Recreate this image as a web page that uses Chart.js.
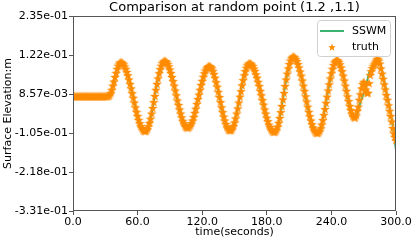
<!DOCTYPE html>
<html>
<head>
<meta charset="utf-8">
<script src="https://cdn.jsdelivr.net/npm/chart.js@4.4.0/dist/chart.umd.min.js"></script>
<style>
html, body { margin: 0; padding: 0; background: #fff; }
#wrap { width: 416px; height: 242px; }
</style>
</head>
<body>
<div id="wrap"><canvas id="chart" width="416" height="242"></canvas></div>
<script>

// truth sampled every second
var truthTimes = [
    0, 1, 2, 3, 4, 5, 6, 7, 8, 9,
    10, 11, 12, 13, 14, 15, 16, 17, 18, 19,
    20, 21, 22, 23, 24, 25, 26, 27, 28, 29,
    30, 31, 32, 33, 34, 35, 36, 37, 38, 39,
    40, 41, 42, 43, 44, 45, 46, 47, 48, 49,
    50, 51, 52, 53, 54, 55, 56, 57, 58, 59,
    60, 61, 62, 63, 64, 65, 66, 67, 68, 69,
    70, 71, 72, 73, 74, 75, 76, 77, 78, 79,
    80, 81, 82, 83, 84, 85, 86, 87, 88, 89,
    90, 91, 92, 93, 94, 95, 96, 97, 98, 99,
    100, 101, 102, 103, 104, 105, 106, 107, 108, 109,
    110, 111, 112, 113, 114, 115, 116, 117, 118, 119,
    120, 121, 122, 123, 124, 125, 126, 127, 128, 129,
    130, 131, 132, 133, 134, 135, 136, 137, 138, 139,
    140, 141, 142, 143, 144, 145, 146, 147, 148, 149,
    150, 151, 152, 153, 154, 155, 156, 157, 158, 159,
    160, 161, 162, 163, 164, 165, 166, 167, 168, 169,
    170, 171, 172, 173, 174, 175, 176, 177, 178, 179,
    180, 181, 182, 183, 184, 185, 186, 187, 188, 189,
    190, 191, 192, 193, 194, 195, 196, 197, 198, 199,
    200, 201, 202, 203, 204, 205, 206, 207, 208, 209,
    210, 211, 212, 213, 214, 215, 216, 217, 218, 219,
    220, 221, 222, 223, 224, 225, 226, 227, 228, 229,
    230, 231, 232, 233, 234, 235, 236, 237, 238, 239,
    240, 241, 242, 243, 244, 245, 246, 247, 248, 249,
    250, 251, 252, 253, 254, 255, 256, 257, 258, 259,
    260, 261, 262, 263, 264, 265, 266, 267, 268, 269,
    270, 271, 272, 273, 274, 275, 276, 277, 278, 279,
    280, 281, 282, 283, 284, 285, 286, 287, 288, 289,
    290, 291, 292, 293, 294, 295, 296, 297, 298, 299,
    300
];

var truth = [
    0.002, 0.002, 0.002, 0.002, 0.002, 0.002, 0.002, 0.002, 0.002, 0.002,
    0.002, 0.002, 0.002, 0.002, 0.002, 0.002, 0.002, 0.002, 0.002, 0.002,
    0.002, 0.002, 0.002, 0.002, 0.002, 0.002, 0.002, 0.002, 0.002, 0.002,
    0.002, 0.002, 0.002, 0.003, 0.006, 0.012, 0.021, 0.033, 0.045, 0.058,
    0.070, 0.082, 0.091, 0.097, 0.101, 0.101, 0.099, 0.095, 0.089, 0.082,
    0.073, 0.063, 0.051, 0.038, 0.025, 0.011, -0.002, -0.016, -0.030, -0.043,
    -0.055, -0.066, -0.076, -0.084, -0.090, -0.095, -0.098, -0.099, -0.098, -0.093,
    -0.085, -0.075, -0.063, -0.048, -0.032, -0.015, 0.003, 0.021, 0.038, 0.054,
    0.069, 0.081, 0.091, 0.099, 0.103, 0.105, 0.104, 0.101, 0.096, 0.089,
    0.080, 0.070, 0.058, 0.046, 0.033, 0.019, 0.005, -0.010, -0.023, -0.036,
    -0.048, -0.059, -0.069, -0.076, -0.083, -0.087, -0.089, -0.089, -0.086, -0.082,
    -0.076, -0.068, -0.058, -0.046, -0.034, -0.020, -0.006, 0.007, 0.021, 0.035,
    0.047, 0.059, 0.069, 0.077, 0.083, 0.087, 0.090, 0.090, 0.087, 0.083,
    0.076, 0.067, 0.056, 0.043, 0.030, 0.015, 0.000, -0.015, -0.030, -0.044,
    -0.057, -0.068, -0.078, -0.086, -0.092, -0.096, -0.097, -0.096, -0.091, -0.084,
    -0.074, -0.062, -0.048, -0.033, -0.016, 0.001, 0.017, 0.034, 0.049, 0.063,
    0.075, 0.085, 0.092, 0.097, 0.098, 0.097, 0.094, 0.090, 0.083, 0.076,
    0.066, 0.056, 0.044, 0.032, 0.018, 0.005, -0.009, -0.022, -0.036, -0.048,
    -0.060, -0.070, -0.080, -0.087, -0.094, -0.098, -0.101, -0.102, -0.100, -0.095,
    -0.086, -0.075, -0.061, -0.044, -0.026, -0.007, 0.012, 0.032, 0.051, 0.068,
    0.083, 0.096, 0.106, 0.113, 0.117, 0.117, 0.115, 0.110, 0.104, 0.096,
    0.086, 0.074, 0.062, 0.048, 0.033, 0.018, 0.002, -0.013, -0.028, -0.043,
    -0.056, -0.068, -0.079, -0.088, -0.095, -0.101, -0.104, -0.105, -0.103, -0.099,
    -0.091, -0.080, -0.067, -0.052, -0.035, -0.017, 0.001, 0.019, 0.037, 0.054,
    0.069, 0.082, 0.093, 0.101, 0.105, 0.107, 0.106, 0.102, 0.095, 0.086,
    0.075, 0.062, 0.048, 0.033, 0.018, 0.002, -0.012, -0.026, -0.038, -0.048,
    -0.055, -0.059, -0.060, -0.054, -0.040, -0.028, -0.008, 0.008, 0.025, 0.038,
    0.044, 0.036, 0.022, 0.012, 0.012, 0.040, 0.064, 0.075, 0.084, 0.091,
    0.097, 0.103, 0.109, 0.111, 0.106, 0.097, 0.083, 0.068, 0.053, 0.037,
    0.022, 0.006, -0.008, -0.024, -0.040, -0.055, -0.071, -0.090, -0.105, -0.116,
    -0.125
];

// SSWM line, every 2.5 s
var sswmTimes = [
    0, 2.5, 5, 7.5, 10, 12.5, 15, 17.5, 20, 22.5,
    25, 27.5, 30, 32.5, 35, 37.5, 40, 42.5, 45, 47.5,
    50, 52.5, 55, 57.5, 60, 62.5, 65, 67.5, 70, 72.5,
    75, 77.5, 80, 82.5, 85, 87.5, 90, 92.5, 95, 97.5,
    100, 102.5, 105, 107.5, 110, 112.5, 115, 117.5, 120, 122.5,
    125, 127.5, 130, 132.5, 135, 137.5, 140, 142.5, 145, 147.5,
    150, 152.5, 155, 157.5, 160, 162.5, 165, 167.5, 170, 172.5,
    175, 177.5, 180, 182.5, 185, 187.5, 190, 192.5, 195, 197.5,
    200, 202.5, 205, 207.5, 210, 212.5, 215, 217.5, 220, 222.5,
    225, 227.5, 230, 232.5, 235, 237.5, 240, 242.5, 245, 247.5,
    250, 252.5, 255, 257.5, 260, 262.5, 265, 267.5, 270, 272.5,
    275, 277.5, 280, 282.5, 285, 287.5, 290, 292.5, 295, 297.5,
    300
];

var sswm = [
    0.002, 0.002, 0.002, 0.002, 0.002, 0.002, 0.002, 0.002, 0.002, 0.002,
    0.002, 0.002, 0.002, 0.003, 0.012, 0.039, 0.070, 0.094, 0.101, 0.092,
    0.073, 0.045, 0.011, -0.023, -0.055, -0.080, -0.095, -0.099, -0.085, -0.056,
    -0.015, 0.029, 0.069, 0.095, 0.105, 0.099, 0.080, 0.052, 0.019, -0.017,
    -0.048, -0.073, -0.087, -0.088, -0.076, -0.052, -0.020, 0.014, 0.047, 0.073,
    0.088, 0.089, 0.075, 0.050, 0.015, -0.022, -0.057, -0.083, -0.096, -0.094,
    -0.074, -0.041, 0.001, 0.042, 0.075, 0.095, 0.097, 0.087, 0.066, 0.038,
    0.005, -0.029, -0.060, -0.084, -0.098, -0.102, -0.086, -0.053, -0.007, 0.041,
    0.083, 0.110, 0.117, 0.107, 0.086, 0.055, 0.018, -0.021, -0.056, -0.084,
    -0.101, -0.105, -0.091, -0.060, -0.017, 0.028, 0.069, 0.097, 0.107, 0.099,
    0.075, 0.041, 0.002, -0.032, -0.055, -0.060, -0.038, -0.010, 0.010, 0.037,
    0.070, 0.083, 0.095, 0.110, 0.102, 0.071, 0.032, -0.008, -0.046, -0.095,
    -0.155
];

var yTickValues = [-0.33103, -0.21783, -0.10463, 0.00857, 0.12177, 0.23497];
var yTickLabels = ["-3.31e-01", "-2.18e-01", "-1.05e-01", "8.57e-03", "1.22e-01", "2.35e-01"];
var xTickValues = [0, 60, 120, 180, 240, 300];
var xTickLabels = ["0.0", "60.0", "120.0", "180.0", "240.0", "300.0"];

var titleText = "Comparison at random point (1.2 ,1.1)";
var green = "#3cb371";
var orange = "#ff8c00";
var spine = "#555";
var fontName = "'DejaVu Sans', sans-serif";

function makeStar(color, size) {
    var c = document.createElement('canvas');
    c.width = size;
    c.height = size;
    var g = c.getContext('2d');
    var ro = size / 2, ri = ro * 0.42;
    g.beginPath();
    for (var k = 0; k < 10; k++) {
        var r = (k % 2 == 0) ? ro : ri;
        var a = -Math.PI / 2 + k * Math.PI / 5;
        var px = size / 2 + r * Math.cos(a);
        var py = size / 2 + 0.5 + r * Math.sin(a);
        if (k == 0) g.moveTo(px, py); else g.lineTo(px, py);
    }
    g.closePath();
    g.fillStyle = color;
    g.fill();
    return c;
}

var starImg = makeStar(orange, 10);
var legendStar = makeStar(orange, 8);

var truthPoints = [];
for (let i = 0; i < truthTimes.length; i++) {
    truthPoints.push({ x: truthTimes[i], y: truth[i] });
}
var sswmPoints = [];
for (let i = 0; i < sswmTimes.length; i++) {
    sswmPoints.push({ x: sswmTimes[i], y: sswm[i] });
}

// frame, title and legend drawn the matplotlib way
var decorPlugin = {
    id: 'decor',
    afterDraw: function (chart) {
        var ctx = chart.ctx;
        var a = chart.chartArea;
        ctx.save();
        ctx.strokeStyle = spine;
        ctx.lineWidth = 1;
        ctx.strokeRect(Math.round(a.left) + 0.5, Math.round(a.top) + 0.5,
            Math.round(a.right - a.left) - 1, Math.round(a.bottom - a.top) - 1);

        ctx.fillStyle = '#000';
        ctx.font = "13px " + fontName;
        ctx.textAlign = 'center';
        ctx.textBaseline = 'middle';
        ctx.fillText(titleText, (a.left + a.right) / 2, 8);

        // legend box
        ctx.beginPath();
        ctx.roundRect(317.5, 20.5, 73, 36, 3);
        ctx.fillStyle = 'rgba(255,255,255,0.8)';
        ctx.fill();
        ctx.strokeStyle = '#d0d0d0';
        ctx.stroke();

        ctx.beginPath();
        ctx.moveTo(320, 31);
        ctx.lineTo(344, 31);
        ctx.strokeStyle = green;
        ctx.lineWidth = 2;
        ctx.stroke();
        ctx.drawImage(legendStar, 332 - 4, 47 - 4);

        ctx.fillStyle = '#000';
        ctx.font = "11px " + fontName;
        ctx.textAlign = 'left';
        ctx.fillText("SSWM", 352, 31);
        ctx.fillText("truth", 352, 47);
        ctx.restore();
    }
};

var chart = new Chart(document.getElementById('chart'), {
    type: 'line',
    data: {
        datasets: [
            {
                label: 'truth',
                data: truthPoints,
                showLine: false,
                pointStyle: starImg,
                pointRadius: 5,
                pointHoverRadius: 5,
                borderColor: orange,
                backgroundColor: orange
            },
            {
                label: 'SSWM',
                data: sswmPoints,
                borderColor: green,
                borderWidth: 2,
                pointRadius: 0,
                cubicInterpolationMode: 'monotone',
                fill: false
            }
        ]
    },
    plugins: [decorPlugin],
    options: {
        responsive: false,
        animation: false,
        devicePixelRatio: 1,
        layout: { padding: { left: 0, right: 20, top: 16, bottom: 0 } },
        plugins: {
            legend: { display: false },
            title: { display: false },
            tooltip: { enabled: false }
        },
        scales: {
            x: {
                type: 'linear',
                min: 0,
                max: 300,
                afterBuildTicks: function (axis) {
                    axis.ticks = xTickValues.map(function (v) { return { value: v }; });
                },
                afterFit: function (axis) { axis.height = 31; },
                ticks: {
                    autoSkip: false,
                    maxRotation: 0,
                    padding: 1,
                    color: '#000',
                    font: { family: fontName, size: 11 },
                    callback: function (v, i) { return xTickLabels[i]; }
                },
                grid: { drawOnChartArea: false, drawTicks: true, tickLength: 4, color: spine },
                border: { display: false },
                title: {
                    display: true,
                    text: 'time(seconds)',
                    color: '#000',
                    font: { family: fontName, size: 11 },
                    padding: { top: 0, bottom: 3 }
                }
            },
            y: {
                min: yTickValues[0],
                max: yTickValues[5],
                afterBuildTicks: function (axis) {
                    axis.ticks = yTickValues.map(function (v) { return { value: v }; });
                },
                afterFit: function (axis) { axis.width = 73; },
                ticks: {
                    padding: 1,
                    color: '#000',
                    font: { family: fontName, size: 11 },
                    callback: function (v, i) { return yTickLabels[i]; }
                },
                grid: { drawOnChartArea: false, drawTicks: true, tickLength: 4, color: spine },
                border: { display: false },
                title: {
                    display: true,
                    text: 'Surface Elevation:m',
                    color: '#000',
                    font: { family: fontName, size: 11 },
                    padding: { top: 2, bottom: 0 }
                }
            }
        }
    }
});
</script>
</body>
</html>
